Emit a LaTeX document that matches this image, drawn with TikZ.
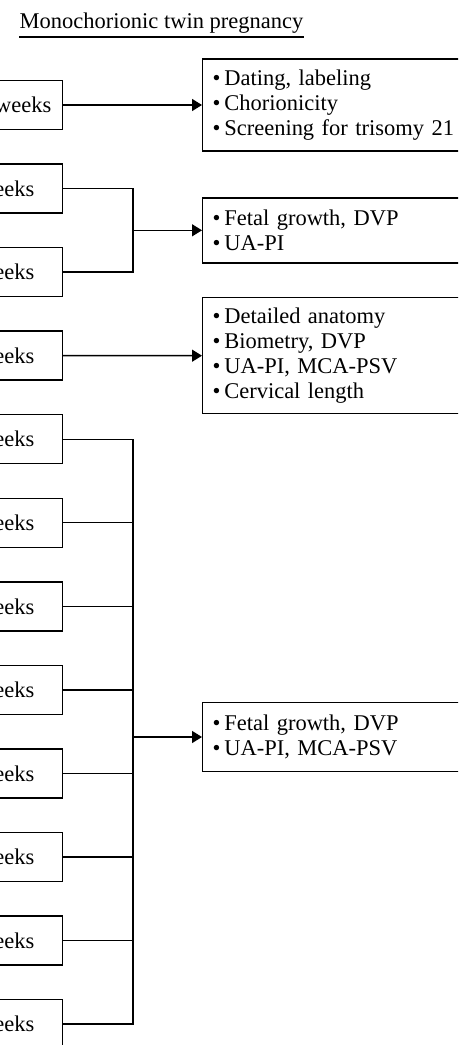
\documentclass[tikz,border=0pt]{standalone}
\usepackage{fontspec}
\setmainfont{Liberation Serif}
\usetikzlibrary{arrows.meta}
\newcommand{\bul}{\textbullet\,}
\tikzset{
  weekbox/.style={draw, anchor=east, minimum height=0.98cm, text width=2.08cm, align=right, inner xsep=0.56cm},
  listbox/.style={draw, anchor=west, text width=5.16cm, align=left, inner xsep=0.2cm},
  arr/.style={-{Triangle[length=0.2cm,width=0.24cm]}}
}
\begin{document}
\begin{tikzpicture}[x=0.02cm,y=-0.02cm,line width=0.8pt,font=\fontsize{12.8}{14.2}\selectfont]
\useasboundingbox (0,0) rectangle (458,1045);
\clip (0,0) rectangle (458,1045);
\node [anchor=base, inner xsep=0pt] (title) at (161.5,28) {Monochorionic twin pregnancy};
\draw [line width=0.6pt] (title.west |- 0,37) -- (title.east |- 0,37);
\pgfmathsetmacro{\d}{83.55}
\node [weekbox, text width=2.76cm, inner xsep=0.22cm] (w1) at (63,105) {weeks};
\foreach \i in {2,...,12}
  \node [weekbox] (w\i) at (63,{105+(\i-1)*\d}) {weeks};
\node [listbox, minimum height=1.84cm] (r1) at (202,105) {\bul Dating, labeling\\\bul Chorionicity\\\bul Screening for trisomy 21};
\node [listbox, minimum height=1.3cm] (r2) at (202,230.3) {\bul Fetal growth, DVP\\\bul UA-PI};
\node [listbox, minimum height=2.32cm] (r3) at (202,355.7) {\bul Detailed anatomy\\\bul Biometry, DVP\\\bul UA-PI, MCA-PSV\\\bul Cervical length};
\node [listbox, minimum height=1.38cm] (r4) at (202,737) {\bul Fetal growth, DVP\\\bul UA-PI, MCA-PSV};
\draw [arr] (w1.east) -- (r1.west);
\coordinate (j2) at (133,230.3);
\draw (w2.east) -| (j2) |- (w3.east);
\draw [arr] (j2) -- (r2.west);
\draw [arr] (w4.east) -- (r3.west);
\coordinate (j4) at (133,737);
\draw (w5.east) -| (j4 |- w12.east) -- (w12.east);
\foreach \i in {6,...,11}
  \draw (w\i.east) -- (j4 |- w\i.east);
\draw [arr] (j4) -- (r4.west);
\end{tikzpicture}
\end{document}
